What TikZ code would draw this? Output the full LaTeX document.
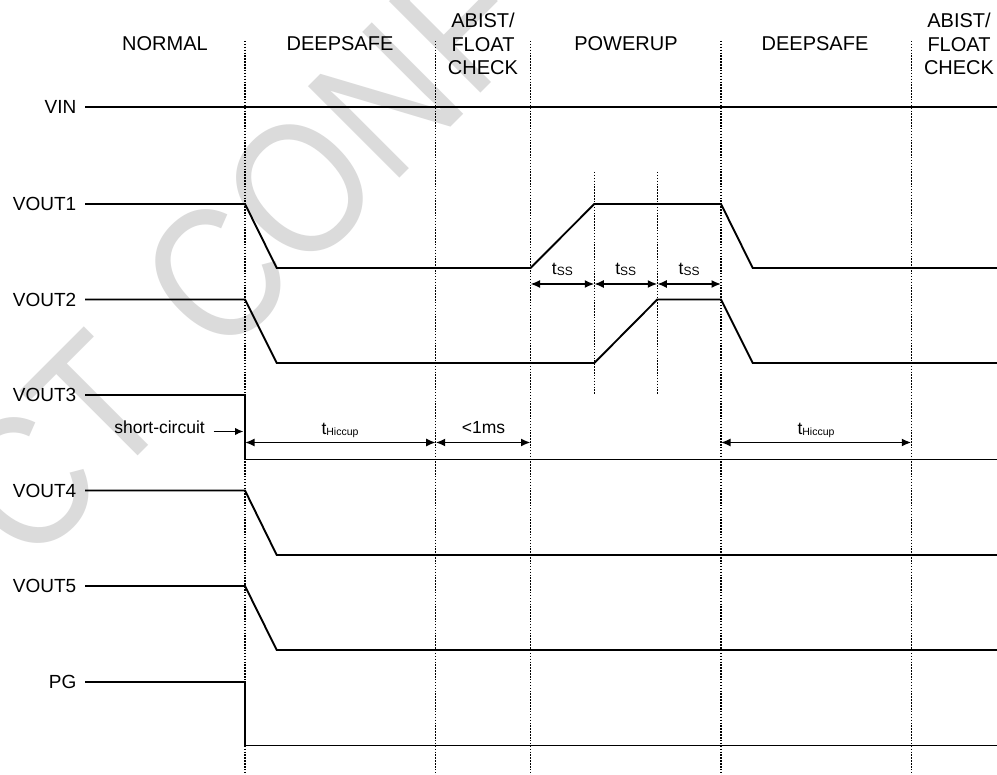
\documentclass[tikz,border=0pt]{standalone}
\usepackage{fontspec}
\setmainfont{Liberation Sans}
\usetikzlibrary{arrows.meta}
\definecolor{wmgray}{RGB}{219,219,219}
\begin{document}
\begin{tikzpicture}[x=1pt,y=-1pt,
  sig/.style={line width=1.9pt, line join=miter},
  gridline/.style={line width=1.4pt, dash pattern=on 1.5pt off 1.4pt},
  dim/.style={line width=1.6pt, {Latex[length=9.5pt,width=8pt]}-{Latex[length=9.5pt,width=8pt]}},
  onearrow/.style={line width=1.6pt, -{Latex[length=8.5pt,width=7.5pt]}},
  hdr/.style={font=\fontsize{20}{23.5}\selectfont, align=center, inner sep=0pt},
  lbl/.style={font=\fontsize{19}{22}\selectfont, anchor=east, inner sep=0pt},
  small/.style={font=\fontsize{17.5}{20}\selectfont, inner sep=0pt, anchor=base},
  wm/.style={text=wmgray, font=\fontsize{188}{188}\selectfont, rotate=45, inner sep=0pt}]

\useasboundingbox (0,0) rectangle (997,775);
\fill[white] (0,0) rectangle (997,775);

% watermark
\begin{scope}
\clip (0,0) rectangle (997,775);
\node[wm] (w1) at (24,483) {\scalebox{0.86}[1]{C}};
\node[wm] (w2) at (98,405) {\scalebox{0.86}[1]{T}};
\node[wm] (w3) at (216,275) {\scalebox{0.86}[1]{C}};
\node[wm] (w4) at (300,188) {\scalebox{0.86}[1]{O}};
\node[wm] (w5) at (386,100) {\scalebox{0.86}[1]{N}};
\node[wm] (w6) at (461,22) {\scalebox{0.86}[1]{F}};
\end{scope}

% headers
\node[hdr] (hNormal) at (165,44) {NORMAL};
\node[hdr] (hDeep1) at (340,44) {DEEPSAFE};
\node[hdr] (hAbist1) at (483,44) {ABIST/\\FLOAT\\CHECK};
\node[hdr] (hPow) at (626,44) {POWERUP};
\node[hdr] (hDeep2) at (815,44) {DEEPSAFE};
\node[hdr] (hAbist2) at (959,44) {ABIST/\\FLOAT\\CHECK};

% dotted phase lines
\foreach \n/\x in {d1/245, d2/435.7, d3/530.5, d4/721, d5/911.3} {
  \coordinate (\n t) at (\x,41);
  \coordinate (\n b) at (\x,775);
  \draw[gridline] (\n t) -- (\n b);
}
\foreach \n/\x in {s1/594.3, s2/657.3} {
  \coordinate (\n t) at (\x,172);
  \coordinate (\n b) at (\x,395);
  \draw[gridline] (\n t) -- (\n b);
}

% signal labels
\node[lbl] (lVIN) at (76.5,107) {VIN};
\node[lbl] (lV1) at (76.5,204) {VOUT1};
\node[lbl] (lV2) at (76.5,299.5) {VOUT2};
\node[lbl] (lV3) at (76.5,395) {VOUT3};
\node[lbl] (lV4) at (76.5,490.5) {VOUT4};
\node[lbl] (lV5) at (76.5,586) {VOUT5};
\node[lbl] (lPG) at (76.5,682) {PG};

% waveforms
\draw[sig] (85,107) -- (997,107);
\draw[sig] (85,204) -- (245,204) -- (276.7,268) -- (530.5,268) -- (594.3,204)
  -- (721,204) -- (752.7,268) -- (997,268);
\draw[sig] (85,299.5) -- (245,299.5) -- (276.7,363) -- (594.3,363) -- (657.3,299.5)
  -- (721,299.5) -- (752.7,363) -- (997,363);
\draw[sig] (85,395) -- (245,395) -- (245,459.5) -- (997,459.5);
\draw[sig] (85,490.5) -- (245,490.5) -- (276.7,555) -- (997,555);
\draw[sig] (85,586) -- (245,586) -- (276.7,650) -- (997,650);
\draw[sig] (85,682) -- (245,682) -- (245,745.5) -- (997,745.5);

% tSS dimensions
\coordinate (ss0) at (530.5,284);
\coordinate (ss1) at (594.3,284);
\coordinate (ss2) at (657.3,284);
\coordinate (ss3) at (721,284);
\draw[dim] (ss0) -- (ss1);
\draw[dim] (ss1) -- (ss2);
\draw[dim] (ss2) -- (ss3);
\node[small] (tss1) at (562.4,275) {t{\fontsize{12}{13}\selectfont\raisebox{-1pt}{SS}}};
\node[small] (tss2) at (625.8,275) {t{\fontsize{12}{13}\selectfont\raisebox{-1pt}{SS}}};
\node[small] (tss3) at (689.1,275) {t{\fontsize{12}{13}\selectfont\raisebox{-1pt}{SS}}};

% hiccup dimensions
\coordinate (h0) at (245,442.5);
\coordinate (h1) at (435.7,442.5);
\coordinate (h2) at (530.5,442.5);
\coordinate (h3) at (721,442.5);
\coordinate (h4) at (911.3,442.5);
\draw[dim] (h0) -- (h1);
\draw[dim] (h1) -- (h2);
\draw[dim] (h3) -- (h4);
\node[small] (thic1) at (340,434.3) {t{\fontsize{10.5}{12}\selectfont\raisebox{-1.5pt}{Hiccup}}};
\node[small] (lt1ms) at (483.5,433.3) {<1ms};
\node[small] (thic2) at (816,434.3) {t{\fontsize{10.5}{12}\selectfont\raisebox{-1.5pt}{Hiccup}}};

% short-circuit marker
\node[small, anchor=base east] (lsc) at (205,433.3) {short-circuit};
\coordinate (sc0) at (213.5,431.5);
\coordinate (sc1) at (243.5,431.5);
\draw[onearrow] (sc0) -- (sc1);

\end{tikzpicture}
\end{document}
